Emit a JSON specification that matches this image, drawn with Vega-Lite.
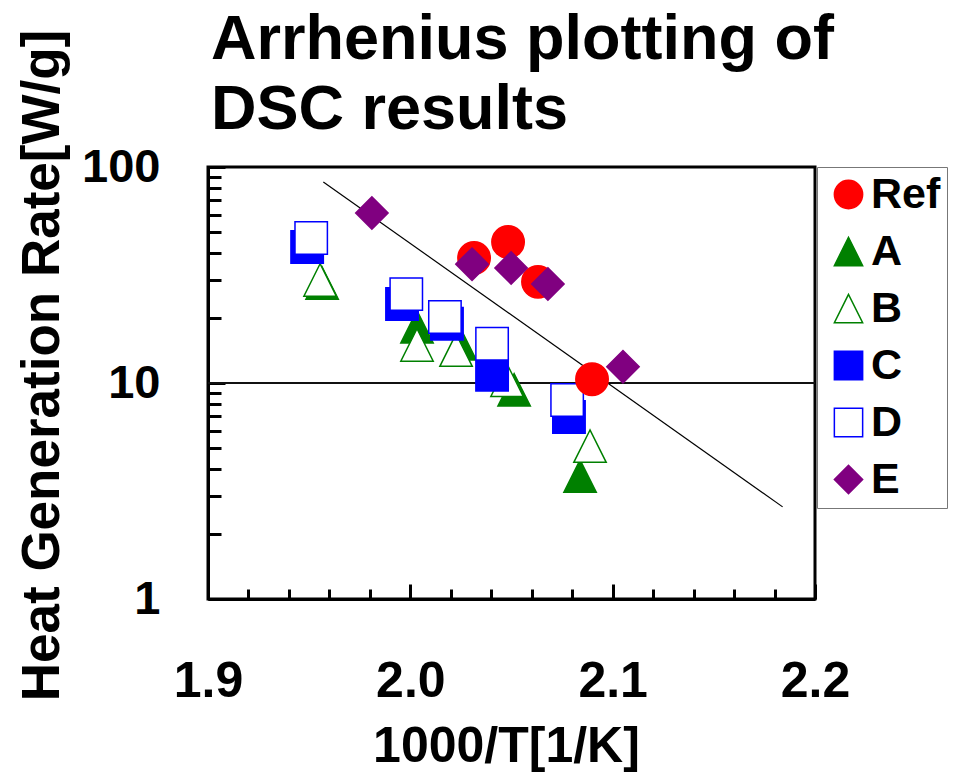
{
  "$schema": "https://vega.github.io/schema/vega-lite/v6.json",
  "autosize": "none",
  "width": 607,
  "height": 432,
  "padding": {"left": 208, "top": 167, "right": 142, "bottom": 174},
  "background": "white",
  "config": {
    "font": "Liberation Sans",
    "view": {"stroke": "black", "strokeWidth": 3},
    "axis": {"grid": false}
  },
  "title": {
    "text": ["Arrhenius plotting of", "DSC results"],
    "anchor": "start",
    "frame": "group",
    "fontSize": 63,
    "fontWeight": "bold",
    "font": "Liberation Sans",
    "lineHeight": 70,
    "offset": 22,
    "dx": 3,
    "dy": 135,
    "color": "black"
  },
  "datasets": {
    "pts": [
      {"series": "A", "x": 1.9564, "y": 29.0},
      {"series": "A", "x": 2.0033, "y": 18.2},
      {"series": "A", "x": 2.0246, "y": 15.2},
      {"series": "A", "x": 2.0513, "y": 9.3},
      {"series": "A", "x": 2.0839, "y": 3.71},
      {"series": "B", "x": 1.9554, "y": 30.0},
      {"series": "B", "x": 2.0033, "y": 15.0},
      {"series": "B", "x": 2.0226, "y": 14.2},
      {"series": "B", "x": 2.0478, "y": 10.3},
      {"series": "B", "x": 2.0888, "y": 5.1},
      {"series": "C", "x": 1.949, "y": 42.6},
      {"series": "C", "x": 1.9959, "y": 23.2},
      {"series": "C", "x": 2.0181, "y": 18.8},
      {"series": "C", "x": 2.0404, "y": 10.9},
      {"series": "C", "x": 2.0784, "y": 6.96},
      {"series": "D", "x": 1.951, "y": 46.9},
      {"series": "D", "x": 1.998, "y": 25.8},
      {"series": "D", "x": 2.0171, "y": 20.2},
      {"series": "D", "x": 2.0404, "y": 15.2},
      {"series": "D", "x": 2.0775, "y": 8.34},
      {"series": "Ref", "x": 2.0315, "y": 37.9},
      {"series": "Ref", "x": 2.0483, "y": 45.0},
      {"series": "Ref", "x": 2.0631, "y": 29.4},
      {"series": "Ref", "x": 2.0898, "y": 10.4},
      {"series": "E", "x": 1.981, "y": 61.2},
      {"series": "E", "x": 2.0305, "y": 35.5},
      {"series": "E", "x": 2.0498, "y": 34.1},
      {"series": "E", "x": 2.068, "y": 28.7},
      {"series": "E", "x": 2.1051, "y": 11.9}
    ],
    "fit": [
      {"x": 1.957, "y": 85.3},
      {"x": 2.184, "y": 2.67}
    ]
  },
  "resolve": {"axis": {"x": "independent", "y": "independent"}},
  "layer": [
    {
      "data": {"values": [{"level": 10}]},
      "mark": {"type": "rule", "color": "#111", "strokeWidth": 2},
      "encoding": {
        "y": {"field": "level", "type": "quantitative", "scale": {"type": "log", "domain": [1, 100], "nice": false}, "axis": null}
      }
    },
    {
      "data": {"name": "fit"},
      "mark": {"type": "line", "color": "black", "strokeWidth": 1.2},
      "encoding": {
        "x": {"field": "x", "type": "quantitative",
          "scale": {"domain": [1.9, 2.2], "nice": false, "zero": false},
          "axis": {"orient": "bottom", "title": null, "labels": false, "domain": false,
            "values": [1.92, 1.94, 1.96, 1.98, 2.02, 2.04, 2.06, 2.08, 2.12, 2.14, 2.16, 2.18],
            "tickSize": -10, "tickWidth": 3, "tickColor": "black"}},
        "y": {"field": "y", "type": "quantitative",
          "scale": {"type": "log", "domain": [1, 100], "nice": false},
          "axis": {"orient": "left", "title": null, "labels": false, "domain": false,
            "values": [2, 3, 4, 5, 6, 7, 8, 9, 20, 30, 40, 50, 60, 70, 80, 90],
            "tickSize": -13, "tickWidth": 3, "tickColor": "black"}}
      }
    },
    {
      "data": {"name": "pts"},
      "mark": {"type": "point", "filled": false, "strokeWidth": 1.5, "opacity": 1, "size": 1050},
      "encoding": {
        "x": {"field": "x", "type": "quantitative",
          "scale": {"domain": [1.9, 2.2], "nice": false, "zero": false},
          "axis": {"orient": "bottom", "title": "1000/T[1/K]", "values": [1.9, 2.0, 2.1, 2.2], "format": ".1f",
            "domain": true, "domainColor": "black", "domainWidth": 3,
            "tickSize": -15, "tickWidth": 3, "tickColor": "black",
            "labelFontSize": 50, "labelFont": "Liberation Sans", "labelFontWeight": "bold", "labelColor": "black",
            "labelBaseline": "alphabetic", "labelPadding": 112, "labelFlush": false,
            "titleFontSize": 50, "titleFont": "Liberation Sans", "titleFontWeight": "bold", "titleColor": "black",
            "titleBaseline": "alphabetic", "titleX": 298, "titleY": 162}},
        "y": {"field": "y", "type": "quantitative",
          "scale": {"type": "log", "domain": [1, 100], "nice": false},
          "axis": {"orient": "left", "title": "Heat Generation Rate[W/g]", "values": [1, 10, 100], "format": "d",
            "domain": true, "domainColor": "black", "domainWidth": 3,
            "tickSize": -17, "tickWidth": 3, "tickColor": "black",
            "labelFontSize": 47, "labelFont": "Liberation Sans", "labelFontWeight": "bold", "labelColor": "black",
            "labelPadding": 65, "labelFlush": false,
            "titleFontSize": 53, "titleFont": "Liberation Sans", "titleFontWeight": "bold", "titleColor": "black",
            "titleBaseline": "middle", "titleX": -166, "titleY": 198, "titleAngle": -90}},
        "shape": {"field": "series", "type": "nominal",
          "scale": {"domain": ["Ref", "A", "B", "C", "D", "E"],
            "range": ["circle", "M0,-1L-1,1L1,1Z", "M0,-1L-1,1L1,1Z", "square", "square", "diamond"]},
          "legend": {"title": null}},
        "fill": {"field": "series", "type": "nominal",
          "scale": {"domain": ["Ref", "A", "B", "C", "D", "E"],
            "range": ["#ff0000", "#008000", "#ffffff", "#0000ff", "#ffffff", "#800080"]},
          "legend": {"title": null}},
        "stroke": {"field": "series", "type": "nominal",
          "scale": {"domain": ["Ref", "A", "B", "C", "D", "E"],
            "range": ["#ff0000", "#008000", "#008000", "#0000ff", "#0000ff", "#800080"]},
          "legend": {"title": null,
            "orient": "right", "offset": 2, "padding": 6,
            "strokeColor": "#777", "fillColor": "white",
            "labelFont": "Liberation Sans", "labelFontWeight": "bold", "labelFontSize": 43, "labelColor": "black",
            "symbolSize": 800, "symbolStrokeWidth": 1.5, "rowPadding": 13, "labelOffset": 1,
            "symbolOffset": 4, "labelLimit": 300}}
      }
    }
  ]
}
